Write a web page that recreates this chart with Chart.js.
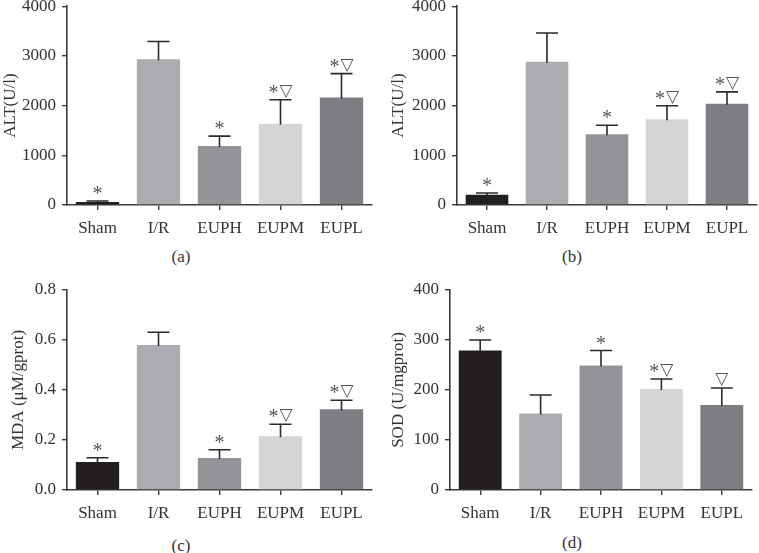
<!DOCTYPE html>
<html>
<head>
<meta charset="utf-8">
<script src="https://cdn.jsdelivr.net/npm/chart.js@4.4.0/dist/chart.umd.min.js"></script>
<style>
  body { margin: 0; background: #fff; width: 759px; height: 553px; overflow: hidden; position: relative; }
  .panel { position: absolute; }
  .cap { position: absolute; font: 17px "Liberation Serif", serif; color: #333; transform: translate(-50%, -50%); }
</style>
</head>
<body>
<div class="panel" style="left:0;top:-10px;width:380px;height:255px"><canvas id="a"></canvas></div>
<div class="panel" style="left:380px;top:-10px;width:379px;height:255px"><canvas id="b"></canvas></div>
<div class="panel" style="left:0;top:270px;width:380px;height:255px"><canvas id="c"></canvas></div>
<div class="panel" style="left:380px;top:270px;width:379px;height:255px"><canvas id="d"></canvas></div>
<div class="cap" style="left:181px;top:257px">(a)</div>
<div class="cap" style="left:572px;top:257px">(b)</div>
<div class="cap" style="left:181px;top:546px">(c)</div>
<div class="cap" style="left:572px;top:543px">(d)</div>
<script>
const groups = ["Sham", "I/R", "EUPH", "EUPM", "EUPL"];
const barColors = ["#231f20", "#abacaf", "#929497", "#d4d5d7", "#7d7e81"];

// (a) ALT
const altA = [60, 2935, 1185, 1637, 2163];
const altAErr = [20, 355, 200, 480, 480];
const marksA = ["*", "", "*", "*▽", "*▽"];
// (b) ALT
const altB = [206, 2882, 1424, 1724, 2036];
const altBErr = [34, 580, 180, 273, 240];
const marksB = ["*", "", "*", "*▽", "*▽"];
// (c) MDA
const mda = [0.112, 0.58, 0.128, 0.215, 0.323];
const mdaErr = [0.017, 0.051, 0.033, 0.048, 0.036];
const marksC = ["*", "", "*", "*▽", "*▽"];
// (d) SOD
const sod = [279, 153, 249, 202, 170];
const sodErr = [21, 37, 30, 20, 34];
const marksD = ["*", "", "*", "*▽", "▽"];

const serif = '"Liberation Serif", "DejaVu Serif", serif';
const axisColor = "#3a3a3a";

// error bars (upper only) and significance marks
const errorBars = {
  id: "errorBars",
  afterDatasetsDraw(chart, args, opts) {
    const ctx = chart.ctx;
    const y = chart.scales.y;
    const meta = chart.getDatasetMeta(0);
    const ds = chart.data.datasets[0];
    ctx.save();
    meta.data.forEach((bar, i) => {
      const top = y.getPixelForValue(ds.data[i] + opts.err[i]);
      const base = y.getPixelForValue(ds.data[i]);
      ctx.strokeStyle = "#2a2a2a";
      ctx.lineWidth = 1.6;
      ctx.beginPath();
      ctx.moveTo(bar.x, base + 1);
      ctx.lineTo(bar.x, top);
      ctx.moveTo(bar.x - 11, top);
      ctx.lineTo(bar.x + 11, top);
      ctx.stroke();
      const m = opts.marks[i];
      if (!m) return;
      ctx.fillStyle = "#555";
      ctx.textBaseline = "alphabetic";
      ctx.textAlign = "left";
      const hasStar = m.includes("*");
      const hasTri = m.includes("▽");
      ctx.font = "20px " + serif;
      const sw = hasStar ? ctx.measureText("*").width : 0;
      ctx.font = "17px DejaVu Sans";
      const tw = hasTri ? ctx.measureText("▽").width : 0;
      let x0 = bar.x - (sw + tw + (hasStar && hasTri ? 1 : 0)) / 2;
      if (hasStar) {
        ctx.font = "20px " + serif;
        ctx.fillText("*", x0, top - 1);
        x0 += sw + 1;
      }
      if (hasTri) {
        ctx.font = "17px DejaVu Sans";
        ctx.fillText("▽", x0, top - 4);
      }
    });
    ctx.restore();
  }
};

function makeChart(id, values, err, marks, yMax, step, title, yWidth, xHeight, pad, titlePad, fmt) {
  return new Chart(document.getElementById(id), {
    type: "bar",
    data: {
      labels: groups,
      datasets: [{
        data: values,
        backgroundColor: barColors,
        borderWidth: 0,
        barPercentage: 0.71,
        categoryPercentage: 1
      }]
    },
    plugins: [errorBars],
    options: {
      responsive: true,
      maintainAspectRatio: false,
      animation: false,
      layout: { padding: pad },
      plugins: {
        legend: { display: false },
        tooltip: { enabled: false },
        errorBars: { err: err, marks: marks }
      },
      scales: {
        x: {
          afterFit(s) { s.height = xHeight; },
          grid: { offset: false, drawOnChartArea: false, drawTicks: true, tickLength: 5, color: axisColor, lineWidth: 1.4 },
          border: { display: true, color: axisColor, width: 1.6 },
          ticks: { color: "#333", padding: 8, font: { family: serif, size: 17 } }
        },
        y: {
          min: 0,
          max: yMax,
          afterFit(s) { s.width = yWidth; },
          grid: { drawOnChartArea: false, drawTicks: true, tickLength: 5, color: axisColor, lineWidth: 1.4 },
          border: { display: true, color: axisColor, width: 1.6 },
          ticks: { stepSize: step, color: "#333", padding: 6, font: { family: serif, size: 17 }, callback: fmt },
          title: { display: true, text: title, color: "#333", padding: { top: titlePad, bottom: 0 }, font: { family: serif, size: 17 } }
        }
      }
    }
  });
}

const intFmt = v => String(v);
makeChart("a", altA, altAErr, marksA, 4000, 1000, "ALT(U/l)", 67, 40, { top: 15, right: 8, left: 0, bottom: 0 }, 0, intFmt);
makeChart("b", altB, altBErr, marksB, 4000, 1000, "ALT(U/l)", 77, 40, { top: 15, right: 2, left: 0, bottom: 0 }, 8, intFmt);
makeChart("c", mda, mdaErr, marksC, 0.8, 0.2, "MDA (μM/gprot)", 67, 35, { top: 20, right: 8, left: 0, bottom: 0 }, 8, v => v.toFixed(1));
makeChart("d", sod, sodErr, marksD, 400, 100, "SOD (U/mgprot)", 70, 35, { top: 20, right: 7, left: 0, bottom: 0 }, 8, intFmt);
</script>
</body>
</html>
